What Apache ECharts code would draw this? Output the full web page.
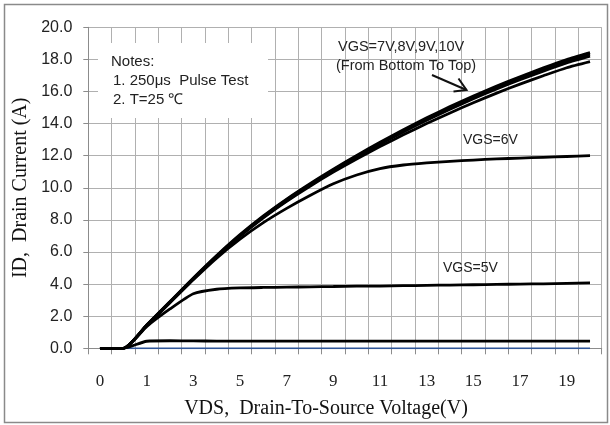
<!DOCTYPE html>
<html><head><meta charset="utf-8">
<script src="https://cdn.jsdelivr.net/npm/echarts@6/dist/echarts.min.js"></script>
<style>html,body{margin:0;padding:0;background:#fff}#c{width:610px;height:425px}</style>
</head><body><div id="c"></div>
<script>
// VDS categories (V)
const vdsCategories = ['0','0.5','1','2','3','4','5','6','7','8','9','10','11','12','13','14','15','16','17','18','19','20'];
// Y tick values (A)
const yTickMin = 0, yTickMax = 20, yTickStep = 2;
// Drain current per VGS (A)
const id3V  = [0,0,0,0,0,0,0,0,0,0,0,0,0,0,0,0,0,0,0,0,0,0];
const id4V  = [0,0,0.44,0.47,0.46,0.45,0.45,0.45,0.45,0.45,0.45,0.45,0.45,0.45,0.45,0.45,0.45,0.45,0.45,0.45,0.45,0.45];
const id5V  = [0,0,1.35,2.45,3.4,3.68,3.76,3.79,3.81,3.83,3.85,3.87,3.88,3.9,3.92,3.94,3.96,3.98,4.0,4.02,4.05,4.08];
const id6V  = [0,0,1.4,2.84,4.27,5.62,6.8,7.83,8.72,9.52,10.25,10.8,11.2,11.42,11.55,11.65,11.73,11.8,11.85,11.9,11.95,12.0];
const id7V  = [0,0,1.42,2.86,4.31,5.7,6.98,8.13,9.16,10.1,10.98,11.8,12.57,13.3,14.0,14.66,15.3,15.9,16.46,16.98,17.48,17.86];
const id8V  = [0,0,1.43,2.87,4.33,5.72,7.01,8.17,9.21,10.16,11.05,11.9,12.71,13.48,14.21,14.9,15.55,16.16,16.73,17.27,17.78,18.2];
const id9V  = [0,0,1.44,2.89,4.35,5.75,7.04,8.21,9.26,10.21,11.11,11.97,12.78,13.56,14.29,14.99,15.64,16.26,16.84,17.38,17.9,18.32];
const id10V = [0,0,1.45,2.91,4.38,5.78,7.08,8.25,9.3,10.26,11.16,12.02,12.84,13.62,14.36,15.06,15.72,16.34,16.92,17.47,17.99,18.42];

const chart = echarts.init(document.getElementById('c'), null, {renderer:'canvas'});
function line(name, data, color, width) {
  return {name, type:'line', data, symbol:'none', smooth:0.2,
    lineStyle:{color, width}, itemStyle:{color}, silent:true, animation:false};
}
const serif = "'Liberation Serif', 'DejaVu Serif', serif";
const sans = "'Liberation Sans', Arial, sans-serif";
const txt = (x, y, s, size) => ({type:'text', z:100, x, y,
  style:{text:s, fill:'#222', font: size + 'px ' + sans, textVerticalAlign:'middle', textAlign:'left'}});

chart.setOption({
  animation:false,
  backgroundColor:'#fff',
  grid:{left:88.3, right:8.3, top:27.3, bottom:76.7, outerBoundsMode:'none'},
  xAxis:{type:'category', data:vdsCategories, boundaryGap:true,
    name:'VDS,  Drain-To-Source Voltage(V)', nameLocation:'middle', nameGap:50,
    nameTextStyle:{fontFamily:serif, fontSize:20, color:'#111', padding:[0,38,0,0]},
    axisLine:{show:true, lineStyle:{color:'#8c8c8c', width:1}},
    axisTick:{show:true, interval:0, length:6, lineStyle:{color:'#8c8c8c'}},
    axisLabel:{interval:1, margin:25, fontFamily:serif, fontSize:17, color:'#222'},
    splitLine:{show:true, interval:0, lineStyle:{color:'#b0b0b0', width:1}}
  },
  yAxis:{type:'value', min:yTickMin, max:yTickMax, interval:yTickStep,
    name:'ID,  Drain Current (A)', nameLocation:'middle', nameGap:58,
    nameTextStyle:{fontFamily:serif, fontSize:20, color:'#111'},
    axisLine:{show:true, lineStyle:{color:'#8c8c8c', width:1}},
    axisTick:{show:true, length:5, lineStyle:{color:'#8c8c8c'}},
    axisLabel:{margin:16, fontFamily:sans, fontSize:16, color:'#222', formatter:v=>v.toFixed(1)},
    splitLine:{show:true, lineStyle:{color:'#b0b0b0', width:1}}
  },
  series:[
    line('VGS=3V', id3V, '#2f5597', 1.8),
    line('VGS=4V', id4V, '#000', 2.8),
    line('VGS=5V', id5V, '#000', 2.8),
    line('VGS=6V', id6V, '#000', 2.8),
    line('VGS=7V', id7V, '#000', 2.8),
    line('VGS=8V', id8V, '#000', 2.8),
    line('VGS=9V', id9V, '#000', 2.8),
    line('VGS=10V', id10V, '#000', 2.8)
  ],
  graphic:[
    {type:'rect', z:99, shape:{x:4.5, y:4.5, width:603, height:418}, style:{fill:'none', stroke:'#8a8a8a', lineWidth:1.5}},
    {type:'rect', z:99, shape:{x:98, y:43, width:170, height:75}, style:{fill:'#fff'}},
    txt(111, 62, 'Notes:', 15),
    txt(113, 81, '1. 250μs  Pulse Test', 15),
    txt(113, 100, '2. T=25 ℃', 15),
    txt(338, 47, 'VGS=7V,8V,9V,10V', 14.5),
    txt(336, 66, '(From Bottom To Top)', 14.5),
    txt(463, 140, 'VGS=6V', 14),
    txt(443, 268, 'VGS=5V', 14),
    {type:'line', z:100, shape:{x1:432, y1:75, x2:466.5, y2:90}, style:{stroke:'#111', lineWidth:2}},
    {type:'polyline', z:100, shape:{points:[[458.5,78.5],[466.5,90],[453.5,91.5]]}, style:{stroke:'#111', lineWidth:2, fill:'none'}}
  ]
});
</script></body></html>
